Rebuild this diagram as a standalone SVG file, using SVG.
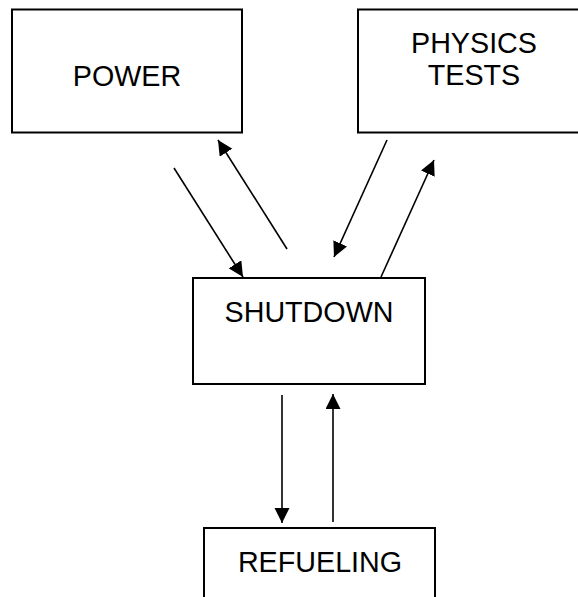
<svg xmlns="http://www.w3.org/2000/svg" width="578" height="597" viewBox="0 0 578 597">
<style>
.box{fill:#fff;stroke:#000;stroke-width:2}
.lbl{font-family:"Liberation Sans",Arial,sans-serif;font-size:28.7px;fill:#000;text-anchor:middle}
.arr{stroke:#000;stroke-width:1.6;fill:none;marker-end:url(#ah)}
</style>
<defs>
<marker id="ah" markerUnits="userSpaceOnUse" markerWidth="16" markerHeight="16" refX="15" refY="7.5" orient="auto">
<path d="M0,0 L15,7.5 L0,15 Z" fill="#000"/>
</marker>
</defs>
<rect width="578" height="597" fill="#fff"/>
<g id="power">
<rect class="box" x="12" y="9.5" width="230" height="123"/>
<text class="lbl" x="127" y="86">POWER</text>
</g>
<g id="physics-tests">
<rect class="box" x="358" y="9.5" width="240" height="123"/>
<text class="lbl" x="474" y="53">PHYSICS</text>
<text class="lbl" x="474" y="85">TESTS</text>
</g>
<g id="shutdown">
<rect class="box" x="193" y="278" width="232" height="106"/>
<text class="lbl" x="309" y="322">SHUTDOWN</text>
</g>
<g id="refueling">
<rect class="box" x="204" y="528" width="231" height="90"/>
<text class="lbl" x="320" y="572">REFUELING</text>
</g>
<g id="connectors">
<line class="arr" x1="174" y1="168" x2="243" y2="277"/>
<line class="arr" x1="287" y1="249" x2="218" y2="140"/>
<line class="arr" x1="387" y1="140" x2="334" y2="257"/>
<line class="arr" x1="381" y1="277" x2="434" y2="160"/>
<line class="arr" x1="282" y1="395" x2="282" y2="523"/>
<line class="arr" x1="333" y1="522" x2="333" y2="394"/>
</g>
</svg>
